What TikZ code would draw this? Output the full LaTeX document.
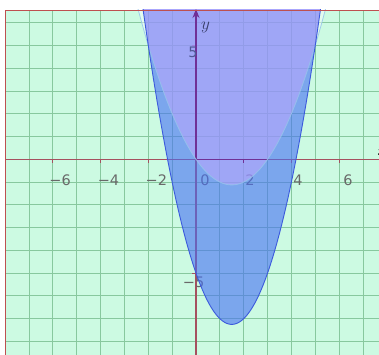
\documentclass[tikz,border=0pt]{standalone}
\usepackage{fontspec}
\usetikzlibrary{arrows.meta}
\newfontfamily\labfont{DejaVu Sans}
\definecolor{mint}{RGB}{204,250,226}
\definecolor{gridg}{RGB}{135,200,158}
\definecolor{axisc}{RGB}{165,80,95}
\definecolor{axisp}{RGB}{112,48,150}
\definecolor{fillA}{RGB}{70,110,245}
\definecolor{fillP}{RGB}{196,166,255}
\definecolor{darkline}{RGB}{60,90,220}
\definecolor{lightline}{RGB}{150,195,235}
\definecolor{labgray}{RGB}{105,105,105}
\definecolor{labblue}{RGB}{80,88,150}
\definecolor{borderc}{RGB}{190,80,80}
\begin{document}
\begin{tikzpicture}[x=23.85pt,y=22.77pt,
  ticklab/.style={font=\labfont\fontsize{14.5}{15}\selectfont, text=labgray, inner sep=0pt},
  gridline/.style={gridg, line width=0.9pt},
  axisline/.style={axisc, line width=1.1pt}]
\useasboundingbox (-8.218,-8.551) rectangle (7.673,6.996);
\fill[white] (-8.218,-8.551) rectangle (7.673,6.996);
\fill[mint] (-8.0,-8.6) rectangle (7.7,6.557);
\begin{scope}
  \clip (-8.0,-8.6) rectangle (7.7,6.557);
  \foreach \i in {-7,...,7} {\draw[gridline] (\i,-8.6) -- (\i,6.557);}
  \foreach \j in {-8,...,6} {\draw[gridline] (-8,\j) -- (7.7,\j);}
  % axes
  \draw[axisline] (-8,0) -- (7.7,0);
  \draw[axisline] (0,-8.6) -- (0,6.3);
  \foreach \i in {-6,-4,-2,2,4,6} {\draw[axisc, line width=0.9pt] (\i,0) -- (\i,-0.17);}
  \foreach \j in {-5,5} {\draw[axisc, line width=0.9pt] (0,\j) -- (-0.17,\j);}
  % labels
  \node[ticklab] (lm6) at (-5.70,-0.91) {−6};
  \node[ticklab] (lm4) at (-3.67,-0.91) {−4};
  \node[ticklab] (lm2) at (-1.66,-0.91) {−2};
  \node[ticklab] (l0) at (0.38,-0.91) {0};
  \node[ticklab] (l2) at (2.26,-0.91) {2};
  \node[ticklab] (l4) at (4.28,-0.91) {4};
  \node[ticklab] (l6) at (6.37,-0.91) {6};
  \node[ticklab] (lmf) at (-0.10,-5.39) {−5};
  % fills
  \fill[fillA, opacity=0.6] plot[domain=-2.3:5.3, samples=90] ({\x},{(\x)^2-3*(\x)-5}) -- cycle;
  \begin{scope}
    \clip plot[domain=-2.3:5.3, samples=90] ({\x},{(\x)^2-3*(\x)-5}) -- cycle;
    \fill[fillP, opacity=0.5] plot[domain=-2.6:5.6, samples=90] ({\x},{0.5*(\x)^2-1.5*(\x)}) -- cycle;
    \begin{scope}
      \clip plot[domain=-2.6:5.6, samples=90] ({\x},{0.5*(\x)^2-1.5*(\x)}) -- cycle;
      \draw[axisp, line width=1.1pt] (-8,0) -- (7.7,0);
      \draw[axisp, line width=1.1pt] (0,-8.6) -- (0,6.3);
      \draw[axisp, line width=0.9pt] (2,0) -- (2,-0.17);
    \end{scope}
  \end{scope}
  \begin{scope}
    \clip plot[domain=-2.6:5.6, samples=90] ({\x},{0.5*(\x)^2-1.5*(\x)}) -- cycle;
    \fill[white, opacity=0.45, even odd rule] (-9,-9) rectangle (9,9)
      plot[domain=-2.3:5.3, samples=90] ({\x},{(\x)^2-3*(\x)-5}) -- cycle;
  \end{scope}
  \draw[lightline, line width=0.8pt, opacity=0.85] plot[domain=-2.6:5.6, samples=90] ({\x},{0.5*(\x)^2-1.5*(\x)});
  \draw[darkline, line width=0.9pt] plot[domain=-2.3:5.3, samples=90] ({\x},{(\x)^2-3*(\x)-5});
  \node[ticklab, text=labblue] (l5) at (-0.13,4.71) {5};
  \node[inner sep=0pt, text=labblue!70!black, font=\fontsize{16}{16}\selectfont] (ylab) at (0.40,5.80) {$y$};
\end{scope}
% y-axis arrow head
\coordinate (yb) at (0,6.2);
\coordinate (yt) at (0,6.6);
\draw[axisp, line width=1.1pt, -{Stealth[length=9pt,width=7pt]}] (yb) -- (yt);
% border
\draw[borderc, line width=0.8pt] (-8.0,-8.6) -- (-8.0,6.557) -- (7.7,6.557);
% x label cut at edge
\node[inner sep=0pt, font=\fontsize{16}{16}\selectfont] (xlab) at (7.82,0.32) {$x$};
\end{tikzpicture}
\end{document}
